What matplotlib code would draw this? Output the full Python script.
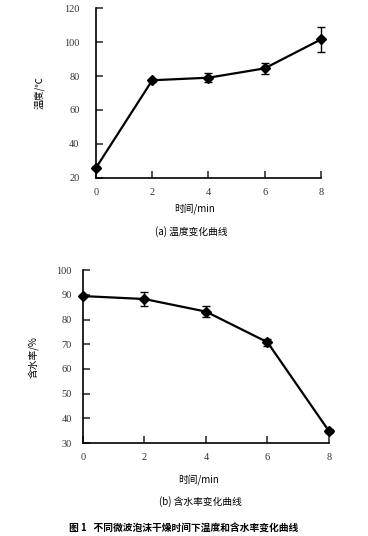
import numpy as np
import matplotlib.pyplot as plt

plt.rcParams['font.family'] = ['Liberation Serif', 'Noto Sans CJK SC']
CJK = ['Noto Sans CJK SC', 'DejaVu Sans']

# data
time_min = [0, 2, 4, 6, 8]
temp = [26, 77.5, 79, 84.5, 101.5]
temp_err = [0.8, 1.0, 2.5, 3.2, 7.5]
moisture = [89.5, 88.3, 83.2, 70.8, 34.8]
moisture_err = [0.4, 2.8, 2.3, 1.5, 0.8]

fig = plt.figure(figsize=(3.68, 5.36), dpi=100)


def style(ax, ylim, yticks, pad_y):
    ax.set_xlim(0, 8)
    ax.set_ylim(*ylim)
    ax.set_xticks(time_min)
    ax.set_yticks(yticks)
    for s in ['top', 'right']:
        ax.spines[s].set_visible(False)
    for s in ['left', 'bottom']:
        ax.spines[s].set_linewidth(1.2)
    ax.tick_params(direction='in', length=5, width=1.2, labelsize=7.5,
                   colors='#333333')
    ax.tick_params(axis='y', pad=pad_y)
    ax.tick_params(axis='x', pad=7)


ax1 = fig.add_axes([0.261, 0.668, 0.611, 0.317])
ax1.errorbar(time_min, temp, yerr=temp_err, color='black', lw=1.6,
             marker='D', ms=5.5, capsize=3, elinewidth=1, clip_on=False)
style(ax1, (20, 120), np.arange(20, 121, 20), 12)
ax1.set_ylabel('温度/℃', family=CJK, fontsize=7, labelpad=14)
fig.text(0.53, 0.605, '时间/min', family=CJK, fontsize=7, ha='center')
fig.text(0.52, 0.562, '(a) 温度变化曲线', family=CJK, fontsize=7, ha='center')

ax2 = fig.add_axes([0.2255, 0.1735, 0.6685, 0.3225])
ax2.errorbar(time_min, moisture, yerr=moisture_err, color='black', lw=1.6,
             marker='D', ms=5.5, capsize=3, elinewidth=1, clip_on=False)
style(ax2, (30, 100), np.arange(30, 101, 10), 8)
ax2.set_ylabel('含水率/%', family=CJK, fontsize=7, labelpad=12)
fig.text(0.54, 0.099, '时间/min', family=CJK, fontsize=7, ha='center')
fig.text(0.545, 0.058, '(b) 含水率变化曲线', family=CJK, fontsize=7, ha='center')
fig.text(0.5, 0.010, '图 1   不同微波泡沫干燥时间下温度和含水率变化曲线',
         family=CJK, fontsize=7, ha='center', fontweight='bold')

fig.savefig('out.png', dpi=100)
